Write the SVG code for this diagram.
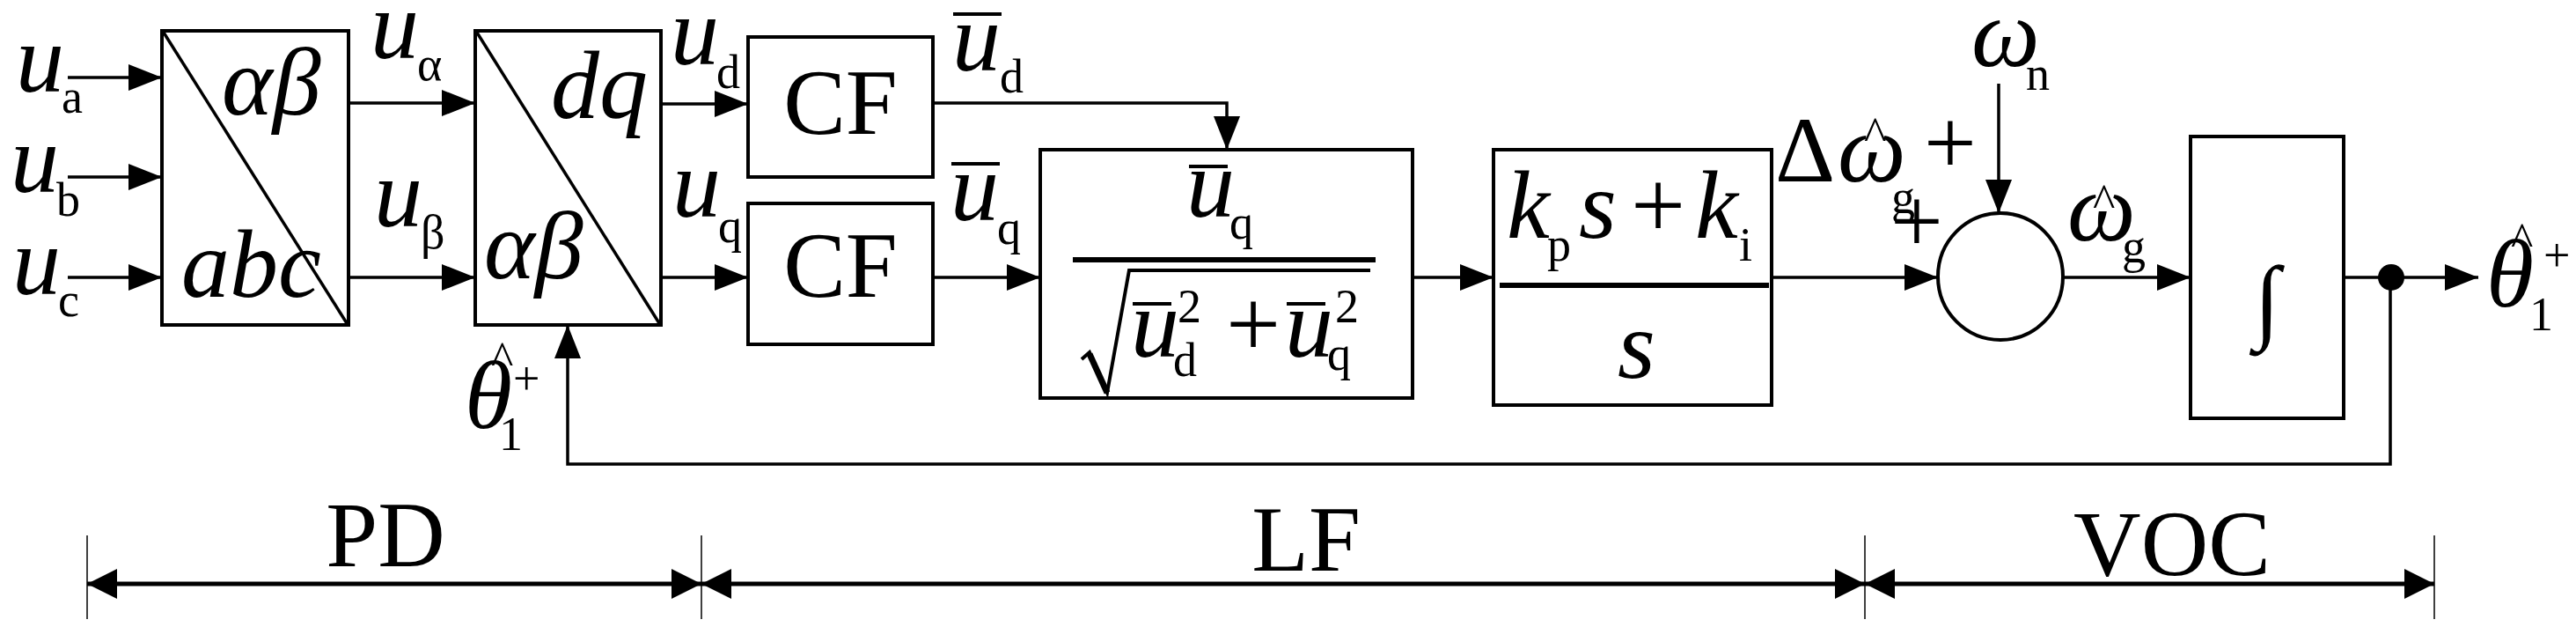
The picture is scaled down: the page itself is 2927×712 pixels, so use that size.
<svg xmlns="http://www.w3.org/2000/svg" width="2927" height="712" viewBox="0 0 2927 712">
<style>
.b{fill:#fff;stroke:#000;stroke-width:4}
.l{fill:none;stroke:#000;stroke-width:3.5}
.v{font-family:"Liberation Serif",serif;font-style:italic;font-size:110px}
.s{font-family:"Liberation Serif",serif;font-size:54px}
.r{font-family:"Liberation Serif",serif;font-size:106px}
.o{stroke:#000;stroke-width:4}
</style>
<defs>
<marker id="a" markerWidth="38" markerHeight="30" refX="38" refY="15" orient="auto" markerUnits="userSpaceOnUse"><path d="M0,0L38,15L0,30Z"/></marker>
<marker id="d" markerWidth="34" markerHeight="34" refX="34" refY="17" orient="auto-start-reverse" markerUnits="userSpaceOnUse"><path d="M0,0L34,17L0,34Z"/></marker>
</defs>
<g id="connectors">
<line class="l" x1="77" y1="88" x2="184" y2="88" marker-end="url(#a)"/>
<line class="l" x1="77" y1="201" x2="184" y2="201" marker-end="url(#a)"/>
<line class="l" x1="77" y1="315" x2="184" y2="315" marker-end="url(#a)"/>
<line class="l" x1="396" y1="117" x2="540" y2="117" marker-end="url(#a)"/>
<line class="l" x1="396" y1="315" x2="540" y2="315" marker-end="url(#a)"/>
<line class="l" x1="751" y1="118" x2="850" y2="118" marker-end="url(#a)"/>
<line class="l" x1="751" y1="315" x2="850" y2="315" marker-end="url(#a)"/>
<polyline class="l" points="1060,117 1394,117 1394,170" marker-end="url(#a)"/>
<line class="l" x1="1060" y1="315" x2="1182" y2="315" marker-end="url(#a)"/>
<line class="l" x1="1605" y1="315" x2="1697" y2="315" marker-end="url(#a)"/>
<line class="l" x1="2013" y1="315" x2="2202" y2="315" marker-end="url(#a)"/>
<line class="l" x1="2271" y1="95" x2="2271" y2="242" marker-end="url(#a)"/>
<line class="l" x1="2344" y1="315" x2="2489" y2="315" marker-end="url(#a)"/>
<line class="l" x1="2663" y1="315" x2="2816" y2="315" marker-end="url(#a)"/>
<polyline class="l" points="2716,315 2716,527 645,527 645,369" marker-end="url(#a)"/>
<circle cx="2717" cy="315" r="15"/>
</g>
<g id="abc">
<rect class="b" x="184" y="35" width="212" height="334"/>
<line class="l" x1="186" y1="37" x2="394" y2="367" stroke-width="3"/>
<text class="v" x="252" y="130">αβ</text>
<text class="v" x="206" y="337">abc</text>
</g>
<g id="park">
<rect class="b" x="540" y="35" width="211" height="334"/>
<line class="l" x1="542" y1="37" x2="749" y2="367" stroke-width="3"/>
<text class="v" x="626" y="134">dq</text>
<text class="v" x="550" y="316">αβ</text>
</g>
<g id="cf1"><rect class="b" x="850" y="42" width="210" height="159"/><text class="r" x="955" y="152" text-anchor="middle">CF</text></g>
<g id="cf2"><rect class="b" x="850" y="231" width="210" height="160"/><text class="r" x="955" y="337" text-anchor="middle">CF</text></g>
<g id="norm">
<rect class="b" x="1182" y="170" width="423" height="282"/>
<line class="o" x1="1351" y1="189" x2="1395" y2="189"/>
<text class="v" x="1348" y="246">u</text><text class="s" x="1397" y="271">q</text>
<line x1="1219" y1="295" x2="1563" y2="295" stroke="#000" stroke-width="6"/>
<polyline fill="none" stroke="#000" stroke-width="4" points="1229,408 1238,400 1258,446 1283,307 1557,307"/>
<line x1="1258" y1="446" x2="1238" y2="402" stroke="#000" stroke-width="7"/>
<line class="o" x1="1287" y1="345" x2="1331" y2="345"/>
<text class="v" x="1285" y="405">u</text><text class="s" x="1333" y="427">d</text><text class="s" x="1338" y="366">2</text>
<text class="v" x="1386" y="405" font-style="normal">+</text>
<line class="o" x1="1462" y1="345" x2="1506" y2="345"/>
<text class="v" x="1460" y="405">u</text><text class="s" x="1508" y="420">q</text><text class="s" x="1517" y="366">2</text>
</g>
<g id="pi">
<rect class="b" x="1697" y="170" width="316" height="290"/>
<text class="v" x="1712" y="270">k</text><text class="s" x="1758" y="296">p</text>
<text class="v" x="1794" y="270">s</text>
<text class="v" x="1846" y="270" font-style="normal">+</text>
<text class="v" x="1926" y="270">k</text><text class="s" x="1976" y="296">i</text>
<line x1="1704" y1="324" x2="2010" y2="324" stroke="#000" stroke-width="6"/>
<text class="v" x="1838" y="429">s</text>
</g>
<g id="sum">
<ellipse class="b" cx="2273" cy="314" rx="71" ry="72"/>
<text class="r" x="2186" y="198" font-size="90">+</text>
<text class="r" x="2148" y="287" font-size="90">+</text>
</g>
<g id="integrator">
<rect class="b" x="2489" y="155" width="174" height="320"/>
<text class="r" x="2576" y="376" text-anchor="middle" font-size="200">∫</text>
</g>
<g id="labels">
<text class="v" x="18" y="104">u</text><text class="s" x="70" y="128">a</text>
<text class="v" x="12" y="218">u</text><text class="s" x="64" y="245">b</text>
<text class="v" x="14" y="334">u</text><text class="s" x="66" y="359">c</text>
<text class="v" x="421" y="66">u</text><text class="s" x="474" y="91">α</text>
<text class="v" x="425" y="257">u</text><text class="s" x="478" y="282">β</text>
<text class="v" x="762" y="73">u</text><text class="s" x="814" y="100">d</text>
<text class="v" x="764" y="246">u</text><text class="s" x="816" y="275">q</text>
<line class="o" x1="1083" y1="16" x2="1138" y2="16"/>
<text class="v" x="1082" y="80">u</text><text class="s" x="1136" y="105">d</text>
<line class="o" x1="1081" y1="186" x2="1136" y2="186"/>
<text class="v" x="1080" y="250">u</text><text class="s" x="1133" y="277">q</text>
<text class="v" x="528" y="486">θ</text><text class="s" x="558" y="425">^</text><text class="s" x="567" y="511">1</text><text class="s" x="583" y="448">+</text>
<text class="r" x="2017" y="206">Δ</text><text class="v" x="2088" y="206">ω</text><text class="s" x="2118" y="170">^</text><text class="s" x="2149" y="242">g</text>
<text class="v" x="2240" y="75">ω</text><text class="s" x="2302" y="102">n</text>
<text class="v" x="2349" y="273">ω</text><text class="s" x="2378" y="246">^</text><text class="s" x="2411" y="298">g</text>
<text class="v" x="2825" y="348">θ</text><text class="s" x="2853" y="290">^</text><text class="s" x="2874" y="375">1</text><text class="s" x="2890" y="308">+</text>
</g>
<g id="stages">
<line x1="99" y1="608" x2="99" y2="703" stroke="#000" stroke-width="1.5"/>
<line x1="797" y1="608" x2="797" y2="703" stroke="#000" stroke-width="1.5"/>
<line x1="2119" y1="608" x2="2119" y2="703" stroke="#000" stroke-width="1.5"/>
<line x1="2766" y1="608" x2="2766" y2="703" stroke="#000" stroke-width="1.5"/>
<line x1="99" y1="663" x2="797" y2="663" stroke="#000" stroke-width="5" marker-start="url(#d)" marker-end="url(#d)"/>
<line x1="797" y1="663" x2="2119" y2="663" stroke="#000" stroke-width="5" marker-start="url(#d)" marker-end="url(#d)"/>
<line x1="2119" y1="663" x2="2766" y2="663" stroke="#000" stroke-width="5" marker-start="url(#d)" marker-end="url(#d)"/>
<text class="r" x="438" y="643" text-anchor="middle">PD</text>
<text class="r" x="1484" y="648" text-anchor="middle">LF</text>
<text class="r" x="2468" y="653" text-anchor="middle">VOC</text>
</g>
</svg>
